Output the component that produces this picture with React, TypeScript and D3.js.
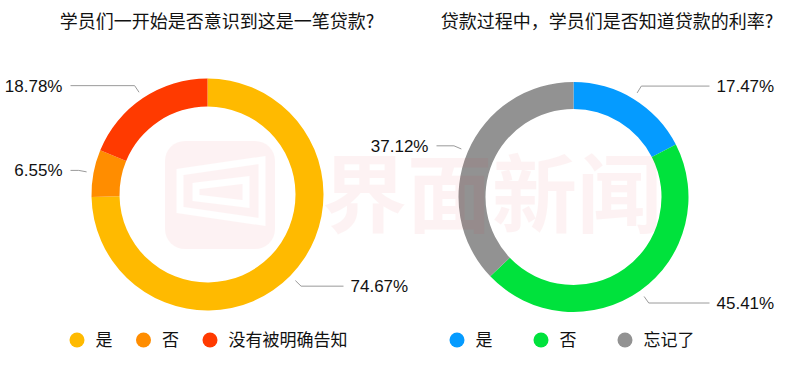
import React from "react";
import * as d3 from "d3";

const leftTitle = "学员们一开始是否意识到这是一笔贷款?";
const leftCategories = ["是", "否", "没有被明确告知"];
const leftValues = [74.67, 6.55, 18.78];
const leftColors = ["#FFBA00", "#FF8D00", "#FF3A00"];

const rightTitle = "贷款过程中，学员们是否知道贷款的利率?";
const rightCategories = ["是", "否", "忘记了"];
const rightValues = [17.47, 45.41, 37.12];
const rightColors = ["#059BFF", "#00E23C", "#929292"];

const W = 812;
const H = 373;
const CJK = "'Noto Sans CJK SC', 'Noto Sans', sans-serif";
const NUM = "'Liberation Sans', Arial, Helvetica, sans-serif";

type DonutProps = {
  cx: number;
  cy: number;
  outer: number;
  inner: number;
  values: number[];
  colors: string[];
  categories: string[];
  title: string;
  titleX: number;
  legendX: number;
  legendStep: number;
};

function Donut(p: DonutProps) {
  const pie = d3
    .pie<number>()
    .sort(null)
    .value((d) => d)
    .startAngle(0)
    .endAngle(2 * Math.PI);
  const arcs = pie(p.values);
  const arc = d3.arc<d3.PieArcDatum<number>>().innerRadius(p.inner).outerRadius(p.outer);
  const line = d3.line<[number, number]>();
  return (
    <g>
      <text
        x={p.titleX}
        y={28}
        textAnchor="middle"
        fontFamily={CJK}
        fontSize={18}
        fill="#111"
      >
        {p.title}
      </text>
      <g transform={`translate(${p.cx},${p.cy})`}>
        {arcs.map((a, i) => (
          <path key={i} d={arc(a) || ""} fill={p.colors[i]} />
        ))}
      </g>
      {arcs.map((a, i) => {
        const mid = (a.startAngle + a.endAngle) / 2;
        const s = Math.sin(mid);
        const c = Math.cos(mid);
        const r1 = p.outer + 7;
        const r2 = p.outer + 15;
        const right = s > 0;
        const p1: [number, number] = [p.cx + r1 * s, p.cy - r1 * c];
        const p2: [number, number] = [p.cx + r2 * s, p.cy - r2 * c];
        const p3: [number, number] = [p.cx + (right ? 136 : -137), p2[1]];
        const tx = p.cx + (right ? 143 : -145);
        return (
          <g key={"l" + i}>
            <path d={line([p1, p2, p3]) || ""} fill="none" stroke="#9a9a9a" strokeWidth={1} />
            <text
              x={tx}
              y={p2[1] + 6}
              textAnchor={right ? "start" : "end"}
              fontFamily={NUM}
              fontSize={17}
              fill="#111"
            >
              {p.values[i].toFixed(2) + "%"}
            </text>
          </g>
        );
      })}
      {p.categories.map((cat, i) => {
        const x = p.legendX + i * p.legendStep;
        return (
          <g key={"g" + i}>
            <circle cx={x} cy={340} r={7.5} fill={p.colors[i]} />
            <text x={x + 18.5} y={345.5} fontFamily={CJK} fontSize={17} fill="#111">
              {cat}
            </text>
          </g>
        );
      })}
    </g>
  );
}

function Watermark() {
  return (
    <g opacity={0.05} pointerEvents="none">
      <rect x={165} y={141} width={110} height={108} rx={20} fill="#E8222A" />
      <g fill="none" stroke="#fff" strokeWidth={7} strokeLinejoin="miter">
        <path d="M180,172 L262,160 L262,222 L180,210 Z" />
        <path d="M196,186 L246,180 L246,204 L196,198 Z" />
      </g>
      <text
        x={322}
        y={226}
        fontFamily={CJK}
        fontWeight={700}
        fontSize={85}
        fill="#E8222A"
      >
        界面新闻
      </text>
    </g>
  );
}

export default function App() {
  return (
    <svg
      width={W}
      height={H}
      style={{ position: "absolute", left: 0, top: 0, background: "#fff" }}
    >
      <rect width={W} height={H} fill="#fff" />
      <Donut
        cx={207.5}
        cy={194.5}
        outer={116}
        inner={88}
        values={leftValues}
        colors={leftColors}
        categories={leftCategories}
        title={leftTitle}
        titleX={217}
        legendX={77}
        legendStep={66.5}
      />
      <Donut
        cx={573.5}
        cy={197}
        outer={115}
        inner={88}
        values={rightValues}
        colors={rightColors}
        categories={rightCategories}
        title={rightTitle}
        titleX={607}
        legendX={457}
        legendStep={84}
      />
      <Watermark />
    </svg>
  );
}
